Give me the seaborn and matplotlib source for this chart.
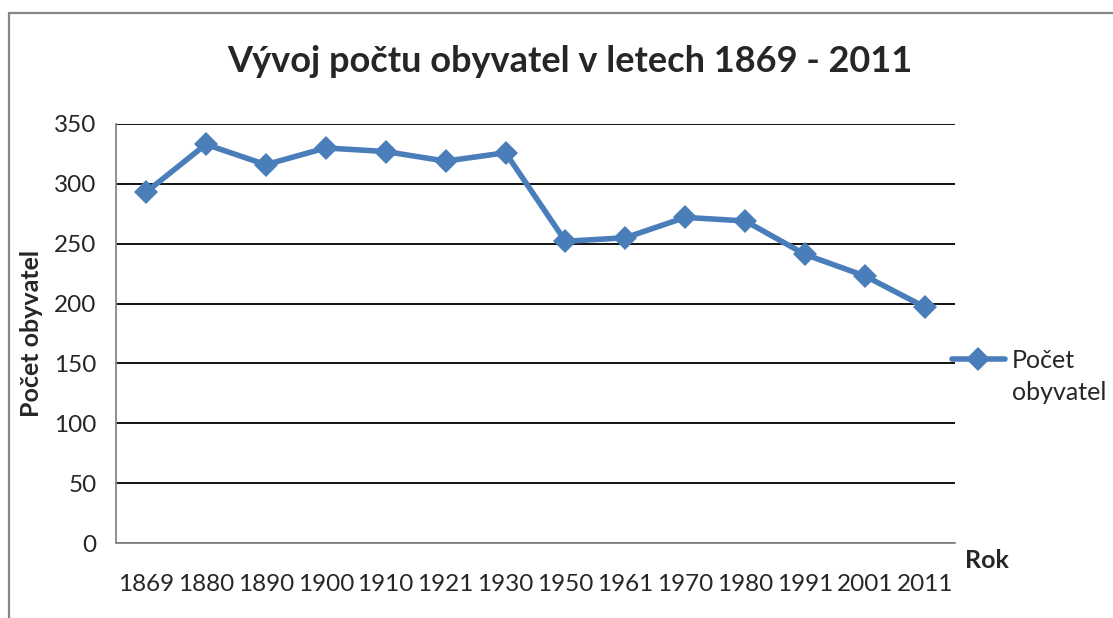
import numpy as np
import pandas as pd
import matplotlib
matplotlib.use('Agg')
import matplotlib.pyplot as plt
import seaborn as sns
from matplotlib.lines import Line2D

# data
roky = ['1869', '1880', '1890', '1900', '1910', '1921', '1930',
        '1950', '1961', '1970', '1980', '1991', '2001', '2011']
obyvatel = [293, 333, 316, 330, 327, 319, 326,
            252, 255, 272, 269, 241, 223, 197]
y_ticks = [0, 50, 100, 150, 200, 250, 300, 350]

df = pd.DataFrame({'Rok': roky, 'Počet obyvatel': obyvatel})

sns.set_theme(style='white')
plt.rcParams['font.family'] = ['Lato', 'DejaVu Sans']

fig = plt.figure(figsize=(11.13, 6.18), dpi=100)
ax = fig.add_axes([116/1113, 1 - 543/618, (955-116)/1113, (543-124)/618])

blue = '#4A7EBB'
sns.lineplot(data=df, x='Rok', y='Počet obyvatel', ax=ax, color=blue,
             linewidth=4, marker='D', markersize=12.5, markeredgewidth=0,
             sort=False, label='Počet', zorder=3)

ax.set_ylim(0, 350)
ax.set_yticks(y_ticks)
ax.set_xlim(-0.5, len(roky) - 0.5)
ax.yaxis.grid(True, color='black', linewidth=1.3)
ax.set_axisbelow(True)

for s in ['top', 'right']:
    ax.spines[s].set_visible(False)
for s in ['left', 'bottom']:
    ax.spines[s].set_color('#868686')
    ax.spines[s].set_linewidth(1.3)

ax.tick_params(axis='y', length=8, width=1.3, color='#868686', labelsize=17.5, pad=6)
ax.tick_params(axis='x', which='major', length=0, labelsize=17.5, pad=22)
ax.set_xticks(np.arange(-0.5, len(roky)), minor=True)
ax.tick_params(axis='x', which='minor', length=8, width=1.3, color='#868686', direction='out')

ax.set_ylabel('Počet obyvatel', fontsize=18, fontweight='bold', labelpad=8)
ax.set_xlabel('')
fig.text(965/1113, 1 - 561/618, 'Rok', fontsize=18, fontweight='bold', va='center', ha='left')

fig.suptitle('Vývoj počtu obyvatel v letech 1869 - 2011', x=570/1113, y=1 - 62/618,
             fontsize=26, fontweight='bold', va='center')

leg = ax.legend(loc='center left', bbox_to_anchor=(952/1113, 1 - 360/618),
                bbox_transform=fig.transFigure, frameon=False, fontsize=18,
                handlelength=2.1, handletextpad=0.28, borderpad=0, borderaxespad=0)
fig.text(1012/1113, 1 - 393/618, 'obyvatel', fontsize=18, va='center', ha='left')

# chart border (only top and left edges visible in the reference)
fig.add_artist(Line2D([9/1113, 9/1113], [0, 1 - 13/618], transform=fig.transFigure,
                      color='#868686', linewidth=1.6))
fig.add_artist(Line2D([9/1113, 1], [1 - 13/618, 1 - 13/618], transform=fig.transFigure,
                      color='#868686', linewidth=1.6))

fig.savefig('out.png', dpi=100)
